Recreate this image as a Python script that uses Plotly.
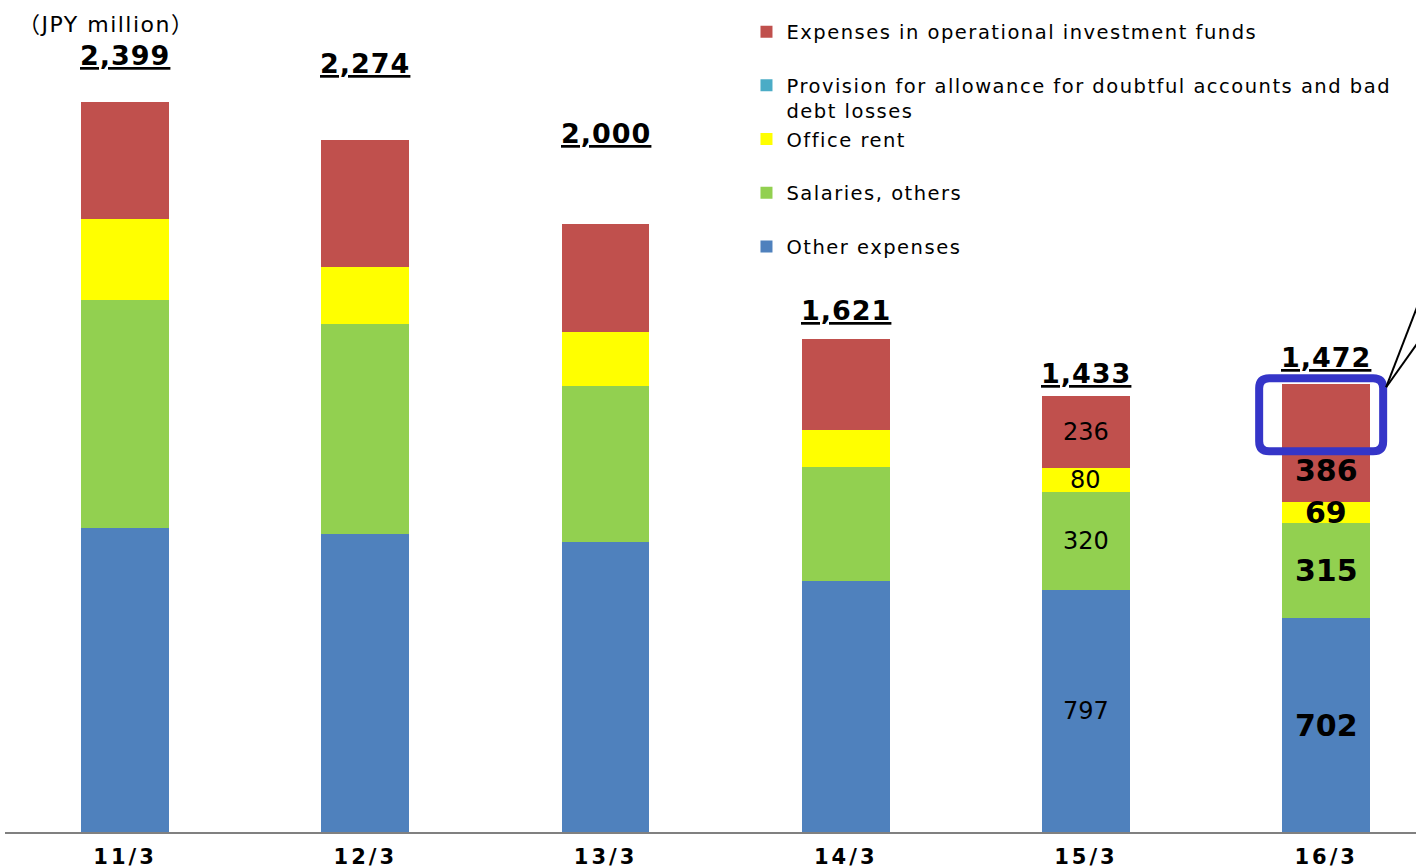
import plotly.graph_objects as go

# Fiscal year-end categories
periods = ["11/3", "12/3", "13/3", "14/3", "15/3", "16/3"]

# Expense breakdown (JPY million), stacked bottom to top
other_expenses = [999, 979, 953, 825, 797, 702]
salaries = [749, 690, 513, 375, 320, 315]
office_rent = [266, 187, 177, 122, 80, 69]
provision = [0, 0, 0, 0, 0, 0]
fund_expenses = [385, 418, 357, 299, 236, 386]

totals = [2399, 2274, 2000, 1621, 1433, 1472]

# vertical gap (px) between each bar top and its total label centre
total_label_lift = [47, 77, 90, 28, 23, 27]

FONT = "DejaVu Sans, Noto Sans CJK JP, sans-serif"


def spaced(text, px):
    """Wrap each line of a label in a letter-spaced span."""
    return "<br>".join(
        f'<span style="letter-spacing:{px}px">{line}</span>' for line in text.split("<br>")
    )


# (legend name, values, colour, legend rank); stacking follows list order
series = [
    ("Other expenses<br> ", other_expenses, "#4F81BD", 5),
    ("Salaries, others<br> ", salaries, "#92D050", 4),
    ("Office rent<br> ", office_rent, "#FFFF00", 3),
    ("Provision for allowance for doubtful accounts and bad<br>debt losses", provision, "#4BACC6", 2),
    ("Expenses in operational investment funds<br> ", fund_expenses, "#C0504D", 1),
]

fig = go.Figure()
for name, vals, color, rank in series:
    fig.add_trace(go.Bar(
        x=periods, y=vals, name=spaced(name, 1.5), width=0.366,
        marker=dict(color=color, line=dict(width=0)),
        legendrank=rank, hoverinfo="skip",
    ))

annotations = []

# totals above each bar
for p, t, lift in zip(periods, totals, total_label_lift):
    annotations.append(dict(
        x=p, y=t, xref="x", yref="y", text=f"<b><u>{spaced(f'{t:,}', 1)}</u></b>",
        showarrow=False, yanchor="middle", yshift=lift,
        font=dict(family=FONT, size=27, color="#000000"),
    ))

# segment values for the last two periods
seg_stack = [other_expenses, salaries, office_rent, fund_expenses]
label_style = {4: dict(size=24, bold=False), 5: dict(size=30, bold=True)}
seg_shift = {(5, 3): -28}
for idx, style in label_style.items():
    base = 0
    for k, vals in enumerate(seg_stack):
        v = vals[idx]
        txt = f"<b>{v}</b>" if style["bold"] else f"{v}"
        annotations.append(dict(
            x=periods[idx], y=base + v / 2, xref="x", yref="y", text=txt,
            showarrow=False, yshift=seg_shift.get((idx, k), 0),
            font=dict(family=FONT, size=style["size"], color="#000000"),
        ))
        base += v

annotations.append(dict(
    x=0.008, y=0.971, xref="paper", yref="paper", text=spaced("（JPY million）", 1.5),
    showarrow=False, xanchor="left", yanchor="middle",
    font=dict(family=FONT, size=22, color="#000000"),
))

# highlight box around the fund-expense segment of the latest period
L, R, T, B, r = -67, 57, 6, -67, 10
box_path = (
    f"M{L + r},{T} H{R - r} Q{R},{T} {R},{T - r} V{B + r} Q{R},{B} {R - r},{B} "
    f"H{L + r} Q{L},{B} {L},{B + r} V{T - r} Q{L},{T} {L + r},{T} Z"
)
last = len(periods) - 1
shapes = [
    dict(type="path", path=box_path, xref="x", yref="y",
         xsizemode="pixel", ysizemode="pixel", xanchor=last, yanchor=totals[last],
         line=dict(color="#3535C8", width=8), fillcolor="rgba(0,0,0,0)"),
    dict(type="line", xref="x", yref="y", xsizemode="pixel", ysizemode="pixel",
         xanchor=last, yanchor=totals[last], x0=60, y0=-3, x1=92, y1=80,
         line=dict(color="#000000", width=2)),
    dict(type="line", xref="x", yref="y", xsizemode="pixel", ysizemode="pixel",
         xanchor=last, yanchor=totals[last], x0=60, y0=-3, x1=92, y1=42,
         line=dict(color="#000000", width=2)),
]

fig.update_layout(
    width=1416, height=868,
    margin=dict(l=5, r=0, t=0, b=36),
    barmode="stack",
    plot_bgcolor="#FFFFFF", paper_bgcolor="#FFFFFF",
    font=dict(family=FONT, color="#000000"),
    annotations=annotations,
    shapes=shapes,
    showlegend=True,
    legend=dict(
        x=0.5255, y=0.985, xanchor="left", yanchor="top",
        traceorder="normal", tracegroupgap=0, valign="top",
        font=dict(family=FONT, size=19.5, color="#000000"),
        bgcolor="rgba(0,0,0,0)", itemclick=False, itemdoubleclick=False,
    ),
    xaxis=dict(
        range=[-0.5, 5.374], showgrid=False, zeroline=False, automargin=False,
        showline=True, linecolor="#808080", linewidth=2,
        tickvals=periods, ticktext=[spaced(p, 3) for p in periods],
        ticks="", tickfont=dict(family=FONT, size=21, color="#000000", weight="bold"),
        ticklabelstandoff=5, fixedrange=True,
    ),
    yaxis=dict(
        range=[0, 2735], visible=False, fixedrange=True,
    ),
)

fig.write_html("out.html")
